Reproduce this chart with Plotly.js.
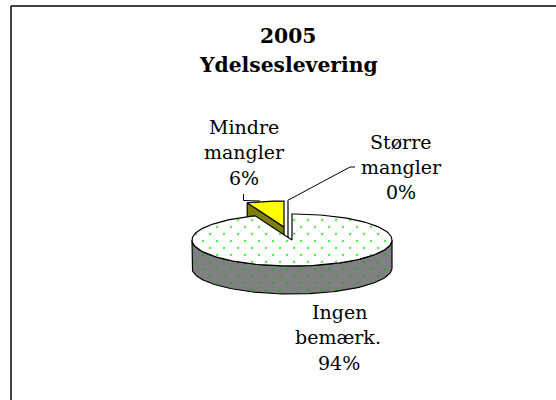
<!DOCTYPE html>
<html><head><meta charset="utf-8">
<script src="https://cdn.plot.ly/plotly-3.0.1.min.js"></script>
<style>html,body{margin:0;padding:0;background:#fff}</style></head>
<body><div id="chart" style="width:556px;height:400px"></div>
<script>
const categories = ['Ingen bemærk.', 'Mindre mangler', 'Større mangler'];
const shares = [94, 6, 0];
const faceColors = ['#ffffff', '#ffff00', '#ffffff'];
const sideColors = ['#808080', '#808000', '#808080'];
const explodeX = [0, -8, -4];
const explodeY = [0, -13, -13];

const CX = 292, CY = 240, RX = 100, RY = 26, DEPTH = 28;
const total = shares.reduce((a, b) => a + b, 0);
const pt = (deg, dx, dy, dz) => {
  const t = deg * Math.PI / 180;
  return [CX + dx + RX * Math.sin(t), CY + dy - RY * Math.cos(t) + dz];
};
const arc = (a, b, dx, dy, dz) => {
  const out = [], n = Math.max(1, Math.ceil(Math.abs(b - a) / 2));
  for (let i = 0; i <= n; i++) out.push(pt(a + (b - a) * i / n, dx, dy, dz));
  return out;
};
const LW = 1.2;
const poly = (pts, color, extra) => Object.assign({
  type: 'scatter', mode: 'lines', x: pts.map(p => p[0]), y: pts.map(p => p[1]),
  fill: 'toself', fillcolor: color, line: {color: '#000', width: LW},
  hoverinfo: 'skip', showlegend: false
}, extra || {});
const dots = (bg, fg) => ({fillpattern: {shape: '.', fgcolor: fg, bgcolor: bg, size: 7 * Math.SQRT2, solidity: 0.04, fillmode: 'replace'}});

const traces = [];
let start = 0;
const spans = shares.map(s => { const a = start; start += 360 * s / total; return [a, start]; });

// exploded wedges first, the main slice then covers their lower walls
[1, 2].forEach(i => {
  const [a, b] = spans[i], dx = explodeX[i], dy = explodeY[i];
  const apex = [CX + dx, CY + dy];
  if (shares[i] > 0) {
    traces.push(poly([[apex[0], apex[1] + DEPTH], ...arc(a, a, dx, dy, DEPTH), ...arc(a, a, dx, dy, 0), apex, [apex[0], apex[1] + DEPTH]], sideColors[i]));
    traces.push(poly([apex, ...arc(a, b, dx, dy, 0), apex], faceColors[i]));
  } else {
    traces.push({type: 'scatter', mode: 'lines', x: [apex[0], apex[0]], y: [apex[1] - RY, apex[1] + DEPTH],
      line: {color: '#000', width: LW}, hoverinfo: 'skip', showlegend: false});
  }
});

// main slice: wall then top face
const [a0, b0] = spans[0];
const wallTop = arc(90, 270, 0, 0, 0), wallBot = arc(270, 90, 0, 0, DEPTH);
traces.push(poly([...wallTop, ...wallBot, wallTop[0]], sideColors[0], dots(sideColors[0], '#1ea81e')));
const apex0 = [CX, CY];
traces.push(poly([apex0, ...arc(a0, b0, 0, 0, 0), apex0], faceColors[0], dots(faceColors[0], '#19f019')));

// leader lines
const leader = (xs, ys) => ({type: 'scatter', mode: 'lines', x: xs, y: ys, line: {color: '#000', width: 1}, hoverinfo: 'skip', showlegend: false});
traces.push(leader([243.5, 243.5, 260], [194, 200.5, 201]));
traces.push(leader([287.5, 350, 355], [200.5, 167, 167]));

const FONT = '"DejaVu Serif", serif';
const label = (text, x, y) => ({text, x, y, xref: 'x', yref: 'y', showarrow: false, xanchor: 'center', yanchor: 'middle',
  align: 'center', font: {family: FONT, size: 19, color: '#000'}});
const layout = {
  width: 556, height: 400, margin: {l: 0, r: 0, t: 0, b: 0},
  paper_bgcolor: '#fff', plot_bgcolor: '#fff', showlegend: false,
  xaxis: {range: [0, 556], visible: false, fixedrange: true},
  yaxis: {range: [400, 0], visible: false, fixedrange: true},
  shapes: [
    {type: 'line', xref: 'x', yref: 'y', x0: 11, y0: 6, x1: 556, y1: 6, line: {color: '#000', width: 1.5}, layer: 'below'},
    {type: 'line', xref: 'x', yref: 'y', x0: 11, y0: 6, x1: 11, y1: 400, line: {color: '#000', width: 1.5}, layer: 'below'}
  ],
  annotations: [
    {text: '<b>2005</b>', x: 288, y: 36, xref: 'x', yref: 'y', showarrow: false, font: {family: FONT, size: 20.3, color: '#000'}},
    {text: '<b>Ydelseslevering</b>', x: 288, y: 65, xref: 'x', yref: 'y', showarrow: false, font: {family: FONT, size: 20.3, color: '#000'}},
    label('Mindre', 244, 127), label('mangler', 244, 152), label(shares[1] + '%', 244, 178),
    label('Større', 401, 142), label('mangler', 401, 167), label(shares[2] + '%', 401, 192),
    label('Ingen', 339, 312), label('bemærk.', 338, 337), label(shares[0] + '%', 339, 363)
  ]
};
Plotly.newPlot('chart', traces, layout, {displayModeBar: false, staticPlot: true}).then(() => {
  // stagger the dot texture into a diamond lattice, as in the reference
  document.querySelectorAll('#chart defs pattern').forEach(p => p.setAttribute('patternTransform', 'translate(0,3) rotate(45)'));
});
</script></body></html>
